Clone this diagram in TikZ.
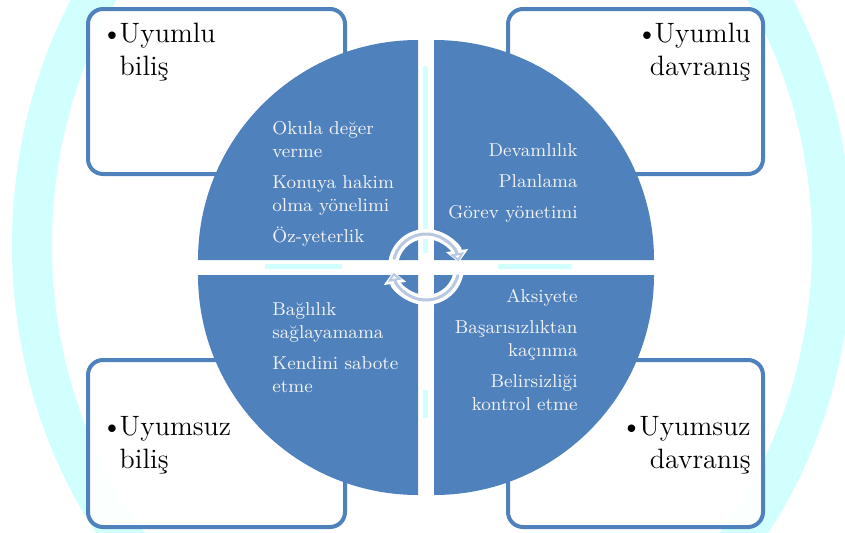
\documentclass[tikz,border=0pt]{standalone}
\usetikzlibrary{arrows.meta}
\definecolor{quadblue}{RGB}{79,129,189}
\definecolor{ringcyan}{RGB}{208,255,253}
\definecolor{arrowgray}{RGB}{185,200,225}
\tikzset{
  quad/.style={fill=quadblue},
  box/.style={draw=quadblue, line width=2pt, rounded corners=7.5pt, fill=white, fill opacity=0.93},
  boxtext/.style={font=\fontsize{14}{16.5}\selectfont, inner sep=0pt, text=black},
  quadtext/.style={font=\fontsize{9.3}{11.5}\selectfont, inner sep=0pt, text=white!95!black},
  stripe/.style={fill=ringcyan},
}
\newcommand{\bul}{\textbullet\kern-1.5pt}
\begin{document}
\begin{tikzpicture}[x=0.5pt,y=0.5pt]
      \clip (0,0) rectangle (845,532);
      % background ring
      \draw[ringcyan, line width=20pt] (432,287) ellipse [x radius=400, y radius=460];
      % corner boxes
      \draw[box] (88,358) rectangle (345,523);
      \draw[box] (508,358) rectangle (763,523);
      \draw[box] (88,5) rectangle (345,172);
      \draw[box] (508,5) rectangle (763,172);
      % quarters of the disc
      \fill[quad] (418,272) -- (198,272) arc[start angle=180, end angle=90, radius=220] -- cycle;
      \fill[quad] (434,272) -- (434,492) arc[start angle=90, end angle=0, radius=220] -- cycle;
      \fill[quad] (418,257) -- (198,257) arc[start angle=180, end angle=270, radius=220] -- cycle;
      \fill[quad] (434,257) -- (654,257) arc[start angle=0, end angle=-90, radius=220] -- cycle;
      % stripes in the gaps
      \fill[stripe] (423,279) rectangle (428,466);
      \fill[stripe] (423,114) rectangle (428,142);
      \fill[stripe] (265,263) rectangle (342,268);
      \fill[stripe] (498,263) rectangle (571,268);
      % box labels
      \node[boxtext, anchor=north west, align=left] (ub) at (101,509)
        {\bul Uyumlu\\\hphantom{\bul}biliş};
      \node[boxtext, anchor=north east, align=right] (ud) at (751,509)
        {\bul Uyumlu\\davranış};
      \node[boxtext, anchor=north west, align=left] (sb) at (101,116)
        {\bul Uyumsuz\\\hphantom{\bul}biliş};
      \node[boxtext, anchor=north east, align=right] (sd) at (751,116)
        {\bul Uyumsuz\\davranış};
      % quarter labels
      \node[quadtext, anchor=north west, align=left] (ubq) at (272,411)
        {Okula değer\\verme\\[4pt]Konuya hakim\\olma yönelimi\\[4pt]Öz-yeterlik};
      \node[quadtext, anchor=north east, align=right] (udq) at (578,389)
        {Devamlılık\\[4pt]Planlama\\[4pt]Görev yönetimi};
      \node[quadtext, anchor=north west, align=left] (sbq) at (272,230)
        {Bağlılık\\sağlayamama\\[4pt]Kendini sabote\\etme};
      \node[quadtext, anchor=north east, align=right] (sdq) at (578,243)
        {Aksiyete\\[4pt]Başarısızlıktan\\kaçınma\\[4pt]Belirsizliği\\kontrol etme};
      % cycle arrows
      \coordinate (mid) at (426,265);
      \begin{scope}[line cap=round]
        \draw[white, line width=5pt, -{Triangle[length=6pt,width=11pt]}]
          ([shift={(170:33)}]mid) arc[start angle=170, end angle=8, radius=33];
        \draw[arrowgray, line width=1.5pt, -{Triangle[open,length=4pt,width=7pt]}]
          ([shift={(165:33)}]mid) arc[start angle=165, end angle=10, radius=33];
        \draw[white, line width=5pt, -{Triangle[length=6pt,width=11pt]}]
          ([shift={(-10:33)}]mid) arc[start angle=-10, end angle=-172, radius=33];
        \draw[arrowgray, line width=1.5pt, -{Triangle[open,length=4pt,width=7pt]}]
          ([shift={(-15:33)}]mid) arc[start angle=-15, end angle=-170, radius=33];
      \end{scope}
    \end{tikzpicture}
\end{document}
